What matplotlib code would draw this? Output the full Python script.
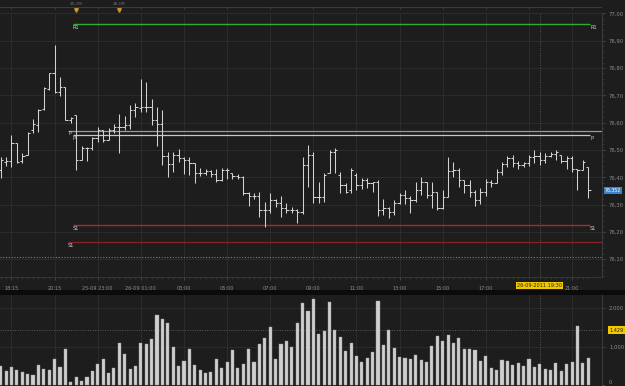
import matplotlib
matplotlib.use("Agg")
import matplotlib.pyplot as plt
from matplotlib.ticker import FixedLocator, MultipleLocator

# ---------------- data ----------------
highs = [76.474, 76.474, 76.555, 76.525, 76.489, 76.566, 76.613, 76.650, 76.730, 76.782,
         76.884, 76.767, 76.730, 76.621, 76.628, 76.514, 76.511, 76.547, 76.584, 76.573,
         76.580, 76.595, 76.632, 76.624, 76.665, 76.672, 76.760, 76.749, 76.686, 76.657,
         76.646, 76.493, 76.493, 76.504, 76.474, 76.474, 76.452, 76.434, 76.430, 76.427,
         76.430, 76.434, 76.434, 76.416, 76.412, 76.405, 76.346, 76.342, 76.346, 76.310,
         76.342, 76.321, 76.332, 76.306, 76.291, 76.284, 76.474, 76.518, 76.493, 76.383,
         76.416, 76.500, 76.507, 76.419, 76.379, 76.434, 76.416, 76.397, 76.397, 76.383,
         76.390, 76.321, 76.291, 76.317, 76.342, 76.353, 76.332, 76.383, 76.401, 76.383,
         76.383, 76.346, 76.353, 76.474, 76.456, 76.434, 76.390, 76.390, 76.353, 76.361,
         76.394, 76.390, 76.430, 76.456, 76.478, 76.482, 76.460, 76.456, 76.482, 76.500,
         76.493, 76.489, 76.493, 76.500, 76.482, 76.478, 76.478, 76.430, 76.463, 76.438]
lows = [76.397, 76.441, 76.438, 76.452, 76.452, 76.482, 76.562, 76.566, 76.646, 76.719,
        76.708, 76.697, 76.610, 76.599, 76.427, 76.463, 76.460, 76.500, 76.529, 76.529,
        76.536, 76.562, 76.489, 76.573, 76.577, 76.621, 76.639, 76.639, 76.591, 76.514,
        76.445, 76.401, 76.419, 76.456, 76.412, 76.408, 76.379, 76.405, 76.408, 76.401,
        76.383, 76.386, 76.394, 76.394, 76.394, 76.335, 76.295, 76.321, 76.255, 76.218,
        76.269, 76.291, 76.255, 76.269, 76.269, 76.233, 76.266, 76.364, 76.306, 76.306,
        76.310, 76.416, 76.416, 76.342, 76.342, 76.342, 76.353, 76.357, 76.361, 76.346,
        76.258, 76.262, 76.251, 76.262, 76.302, 76.302, 76.269, 76.310, 76.335, 76.324,
        76.288, 76.280, 76.284, 76.328, 76.401, 76.364, 76.342, 76.328, 76.295, 76.302,
        76.332, 76.364, 76.379, 76.408, 76.438, 76.438, 76.430, 76.438, 76.441, 76.452,
        76.445, 76.452, 76.474, 76.463, 76.452, 76.430, 76.419, 76.353, 76.427, 76.324]
opens = [76.427, 76.456, 76.460, 76.525, 76.460, 76.482, 76.573, 76.591, 76.650, 76.723,
         76.782, 76.712, 76.730, 76.610, 76.628, 76.463, 76.507, 76.507, 76.544, 76.573,
         76.536, 76.573, 76.584, 76.584, 76.591, 76.646, 76.654, 76.657, 76.657, 76.610,
         76.595, 76.478, 76.449, 76.482, 76.471, 76.463, 76.452, 76.416, 76.416, 76.423,
         76.412, 76.390, 76.427, 76.416, 76.405, 76.401, 76.342, 76.332, 76.332, 76.280,
         76.280, 76.317, 76.306, 76.288, 76.280, 76.280, 76.273, 76.445, 76.482, 76.328,
         76.328, 76.416, 76.493, 76.408, 76.372, 76.353, 76.408, 76.372, 76.390, 76.379,
         76.383, 76.280, 76.288, 76.273, 76.306, 76.335, 76.324, 76.317, 76.353, 76.383,
         76.335, 76.346, 76.288, 76.328, 76.423, 76.427, 76.390, 76.372, 76.346, 76.317,
         76.346, 76.383, 76.379, 76.419, 76.449, 76.471, 76.452, 76.445, 76.452, 76.474,
         76.478, 76.463, 76.478, 76.485, 76.482, 76.460, 76.471, 76.430, 76.427, 76.438]
closes = [76.463, 76.460, 76.525, 76.456, 76.478, 76.562, 76.595, 76.646, 76.727, 76.782,
          76.712, 76.730, 76.610, 76.617, 76.463, 76.507, 76.507, 76.544, 76.573, 76.536,
          76.573, 76.584, 76.584, 76.591, 76.646, 76.657, 76.657, 76.657, 76.610, 76.595,
          76.478, 76.449, 76.482, 76.471, 76.463, 76.452, 76.416, 76.416, 76.423, 76.412,
          76.390, 76.427, 76.427, 76.405, 76.401, 76.342, 76.332, 76.332, 76.280, 76.280,
          76.317, 76.306, 76.288, 76.280, 76.280, 76.273, 76.445, 76.482, 76.328, 76.328,
          76.408, 76.493, 76.500, 76.372, 76.346, 76.427, 76.372, 76.390, 76.379, 76.383,
          76.280, 76.288, 76.273, 76.306, 76.335, 76.324, 76.317, 76.353, 76.383, 76.335,
          76.346, 76.288, 76.328, 76.423, 76.427, 76.390, 76.372, 76.346, 76.317, 76.346,
          76.383, 76.379, 76.419, 76.449, 76.471, 76.452, 76.445, 76.452, 76.474, 76.478,
          76.463, 76.478, 76.485, 76.493, 76.460, 76.471, 76.430, 76.427, 76.456, 76.352]
volumes = [496, 365, 470, 383, 340, 287, 261, 531, 427, 392,
           670, 470, 931, 70, 200, 104, 218, 357, 548, 670,
           313, 452, 1096, 809, 409, 505, 1096, 1062, 1192, 1819,
           1714, 1627, 984, 496, 618, 931, 513, 392, 313, 348,
           670, 435, 609, 905, 452, 548, 931, 600, 1062, 1218,
           1506, 679, 1070, 1140, 1000, 1627, 2133, 1932, 2253, 1340,
           1418, 2167, 1436, 1253, 896, 1105, 766, 609, 705, 853,
           2185, 1044, 1436, 966, 740, 705, 679, 783, 661, 600,
           1018, 1288, 1149, 1305, 1088, 1227, 940, 940, 914, 627,
           766, 444, 392, 661, 635, 522, 583, 496, 679, 470,
           540, 418, 400, 583, 365, 548, 592, 1540, 566, 713]

time_tick_bars = [2, 10, 18, 26, 34, 42, 50, 58, 66, 74, 82, 90, 106]
time_tick_labels = ["18:15", "20:15", "25-09 23:00", "26-09 01:00", "03:00", "05:00",
                    "07:00", "09:00", "11:00", "13:00", "15:00", "17:00", "21:00"]
grid_bars = [2, 10, 18, 26, 34, 42, 50, 58, 66, 74, 82, 90, 98, 106]
day_marker_bars = [14, 22]
day_marker_labels = ["25-09", "26-09"]

# pivot levels (current session drawn between bars, previous levels to the edge)
r1_level = 76.961
p_level = 76.555
s1_level = 76.2265
p_prev_level = 76.571
s1_prev_level = 76.162
dotted_level = 76.109
cross_bar = 100
cross_label = "26-09-2011 19:30"
cross_volume = 1429
cross_volume_label = "1.429"
last_price_label = "76,352"

price_ticks = [76.10, 76.20, 76.30, 76.40, 76.50, 76.60, 76.70, 76.80, 76.90, 77.00]
volume_ticks = [0, 1000, 2000]
volume_tick_labels = ["0", "1.000", "2.000"]

# ---------------- layout ----------------
W, H = 625, 386
BG = "#1d1d1d"
GRID = "#2e2e2e"
TXT = "#8c8c8c"
BAR = "#d2d2d2"

fig = plt.figure(figsize=(W / 100, H / 100), dpi=100)
fig.patch.set_facecolor(BG)


def add_ax(x0, y0, x1, y1):
    return fig.add_axes([x0 / W, 1 - y1 / H, (x1 - x0) / W, (y1 - y0) / H])


n = len(closes)
xs = list(range(n))
XL = (-0.13, 111.55)

# ----- top strip -----
top = add_ax(0, 0, 602, 12.5)
top.set_facecolor(BG)
top.set_xlim(*XL)
top.set_ylim(0, 12.5)
top.invert_yaxis()
top.axis("off")
top.axhline(7.2, color="#3c3c3c", lw=0.7)
for b in grid_bars:
    top.plot([b, b], [7.2, 8.6], color="#444444", lw=0.5)
for b, lab in zip(day_marker_bars, day_marker_labels):
    top.text(b, 4.0, lab, fontsize=3.2, color="#7a7a7a", ha="center", va="center")
    top.plot([b], [9.6], marker="v", ms=2.6, color="#c8962e", mec="#c8962e")

# ----- price panel -----
ax = add_ax(0, 12.5, 602, 277)
ax.set_facecolor(BG)
ax.set_xlim(*XL)
ax.set_ylim(76.035, 77.003)
for b in grid_bars:
    ax.axvline(b, color=GRID, lw=0.6, zorder=0)
for t in price_ticks:
    ax.axhline(t, color=GRID, lw=0.6, zorder=0)

ax.vlines(xs, lows, highs, color=BAR, lw=0.75, zorder=3)
ax.hlines(opens, [x - 0.42 for x in xs], xs, color=BAR, lw=0.75, zorder=3)
ax.hlines(closes, xs, [x + 0.42 for x in xs], color=BAR, lw=0.75, zorder=3)

s0, s1 = 13.41, 109.33
p0 = 12.5
ax.hlines(r1_level, s0, s1, color="#2fae2f", lw=1.0, zorder=2)
ax.hlines(p_prev_level, p0, XL[1], color="#9a9a9a", lw=0.9, zorder=2)
ax.hlines(p_level, s0, s1, color="#c8c8c8", lw=0.9, zorder=2)
ax.hlines(s1_level, s0, s1, color="#b02828", lw=1.0, zorder=2)
ax.hlines(s1_prev_level, p0, XL[1], color="#8a2222", lw=0.9, zorder=2)
ax.axhline(dotted_level, color="#8c8440", lw=0.8, ls=(0, (1, 1.5)), zorder=2)
ax.axvline(cross_bar, color="#555555", lw=0.7, ls=(0, (1, 1.5)), zorder=1)

lab_kw = dict(fontsize=3.6, color="#cfcfcf", va="top", zorder=4)
ax.text(s0, r1_level - 0.004, "R1", ha="left", **lab_kw)
ax.text(s1, r1_level - 0.004, "R1", ha="left", **lab_kw)
ax.text(p0, p_prev_level - 0.003, "P", ha="left", **lab_kw)
ax.text(s0, p_level - 0.003, "P", ha="left", **lab_kw)
ax.text(s1, p_level - 0.003, "P", ha="left", **lab_kw)
ax.text(s0, s1_level - 0.004, "S1", ha="left", **lab_kw)
ax.text(s1, s1_level - 0.004, "S1", ha="left", **lab_kw)
ax.text(p0, s1_prev_level - 0.004, "S1", ha="left", **lab_kw)

ax.yaxis.tick_right()
ax.set_yticks(price_ticks)
ax.set_yticklabels([f"{t:.2f}".replace(".", ",") for t in price_ticks])
ax.yaxis.set_minor_locator(MultipleLocator(0.02))
ax.tick_params(axis="y", which="major", labelsize=3.8, labelcolor=TXT, color="#555555",
               length=2, width=0.5, pad=3)
ax.tick_params(axis="y", which="minor", color="#444444", length=1.2, width=0.4)
ax.set_xticks(time_tick_bars)
ax.set_xticklabels(time_tick_labels)
ax.xaxis.set_minor_locator(FixedLocator(xs))
ax.tick_params(axis="x", which="major", labelsize=3.6, labelcolor=TXT, color="#555555",
               length=2.5, width=0.5, pad=4)
ax.tick_params(axis="x", which="minor", color="#444444", length=1.3, width=0.4)
for sp in ["top", "left"]:
    ax.spines[sp].set_visible(False)
ax.spines["bottom"].set_color("#3a3a3a")
ax.spines["bottom"].set_linewidth(0.6)
ax.spines["right"].set_color("#3a3a3a")
ax.spines["right"].set_linewidth(0.8)

ax.text(cross_bar, -0.032, cross_label, transform=ax.get_xaxis_transform(),
        fontsize=3.6, color="#222222", ha="center", va="center", zorder=6,
        bbox=dict(boxstyle="square,pad=0.25", fc="#f0c800", ec="none"), clip_on=False)
ax.text(1.005, closes[-1], last_price_label, transform=ax.get_yaxis_transform(),
        fontsize=3.3, color="#ffffff", ha="left", va="center", zorder=6,
        bbox=dict(boxstyle="square,pad=0.2", fc="#3c82c8", ec="none"), clip_on=False)

# separator between panels
sep = add_ax(0, 289.5, 625, 294.5)
sep.set_facecolor("#0b0b0b")
sep.axis("off")
sep.add_patch(plt.Rectangle((0, 0), 1, 1, transform=sep.transAxes, color="#0b0b0b"))

# ----- volume panel -----
vx = add_ax(0, 295, 602, 386)
vx.set_facecolor(BG)
vx.set_xlim(*XL)
vx.set_ylim(-26, 2347)
for b in grid_bars:
    vx.axvline(b, color=GRID, lw=0.6, zorder=0)
for t in volume_ticks[1:]:
    vx.axhline(t, color=GRID, lw=0.6, zorder=0)
vx.bar(xs, volumes, width=0.58, color="#cfcfcf", edgecolor="#9a9a9a", linewidth=0.3, zorder=3)
vx.axhline(cross_volume, color="#5a5a5a", lw=0.7, ls=(0, (1, 1.5)), zorder=2)
vx.axvline(cross_bar, color="#555555", lw=0.7, ls=(0, (1, 1.5)), zorder=2)
vx.yaxis.tick_right()
vx.set_yticks(volume_ticks)
vx.set_yticklabels(volume_tick_labels)
vx.tick_params(axis="y", labelsize=3.8, labelcolor=TXT, color="#555555", length=2,
               width=0.5, pad=3)
vx.get_yticklabels()[0].set_va("bottom")
vx.set_xticks([])
for sp in ["top", "left", "bottom"]:
    vx.spines[sp].set_visible(False)
vx.spines["right"].set_color("#3a3a3a")
vx.spines["right"].set_linewidth(0.8)
vx.text(1.012, cross_volume, cross_volume_label, transform=vx.get_yaxis_transform(),
        fontsize=3.6, color="#222222", ha="left", va="center", zorder=6,
        bbox=dict(boxstyle="square,pad=0.25", fc="#f0c800", ec="none"), clip_on=False)

fig.savefig("out.png", dpi=100, facecolor=BG)
